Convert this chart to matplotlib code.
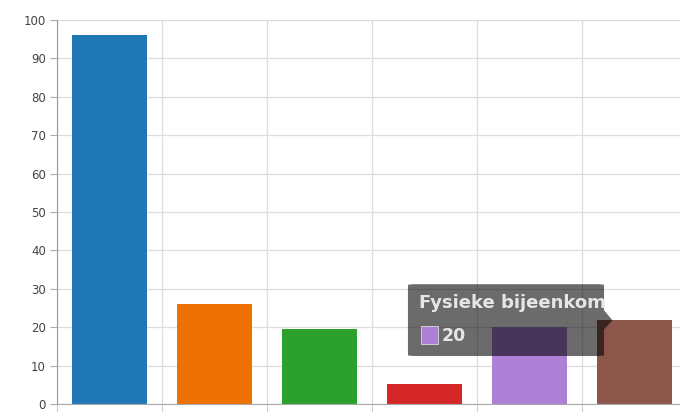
import matplotlib.pyplot as plt
import matplotlib.patches as mpatches
import numpy as np

# --- data ---
categories = ["Cat A", "Cat B", "Cat C", "Cat D", "Fysieke bijeenkomst", "Cat F"]
values = [96, 26, 19.5, 5.2, 20, 22]
colors = ["#1f77b4", "#ee7203", "#2ca02c", "#d62728", "#ad80d6", "#8c564b"]
y_ticks = [0, 10, 20, 30, 40, 50, 60, 70, 80, 90, 100]

hover_idx = 4
tooltip_title = "Fysieke bijeenkom"

fig = plt.figure(figsize=(6.8, 4.12), dpi=100)
# axes runs past the right edge of the figure, like the source
ax = fig.add_axes([57 / 680, 8 / 412, 629.5 / 680, 384 / 412])

x = np.arange(len(categories))
ax.bar(x, values, width=0.715, color=colors, zorder=2)

ax.set_xlim(-0.5, len(categories) - 0.5)
ax.set_ylim(0, 100)
ax.set_yticks(y_ticks)
ax.set_xticks(np.append(x - 0.5, x[-1] + 0.5))
ax.set_xticklabels([])

ax.grid(True, color="#dddddd", linewidth=0.9, zorder=0)
ax.tick_params(axis="y", length=5, color="#aaaaaa", labelsize=8.5, labelcolor="#444444", pad=3)
ax.tick_params(axis="x", length=6, color="#cccccc")
for s in ["top", "right"]:
    ax.spines[s].set_visible(False)
ax.spines["left"].set_color("#999999")
ax.spines["bottom"].set_color("#aaaaaa")

# --- tooltip over the hovered bar ---
box_l, box_r = hover_idx - 1.155, hover_idx + 0.714
box_b, box_t = 12.5, 31.2
box = mpatches.FancyBboxPatch((box_l, box_b), box_r - box_l, box_t - box_b,
                              boxstyle="round,pad=0,rounding_size=0.07",
                              mutation_aspect=3.6,
                              facecolor="black", alpha=0.58, edgecolor="none",
                              zorder=5, clip_on=False)
ax.add_patch(box)
caret = mpatches.Polygon([[box_r, 24.4], [box_r + 0.08, 21.8], [box_r, 19.4]],
                         closed=True, facecolor="black", alpha=0.58,
                         edgecolor="none", zorder=5)
ax.add_patch(caret)
title = ax.text(box_l + 0.105, 26.2, tooltip_title, fontsize=13, fontweight="bold",
                color="#e6e6e6", va="center", ha="left", zorder=6)
title.set_clip_path(box)
sq = mpatches.Rectangle((box_l + 0.12, 15.6), 0.17, 4.6, facecolor=colors[hover_idx],
                        edgecolor="#dddddd", linewidth=0.6, zorder=6)
ax.add_patch(sq)
ax.text(box_l + 0.325, 17.8, f"{values[hover_idx]:g}", fontsize=12.5, fontweight="bold",
        color="#e6e6e6", va="center", ha="left", zorder=6)

plt.savefig("out.png", dpi=100)
